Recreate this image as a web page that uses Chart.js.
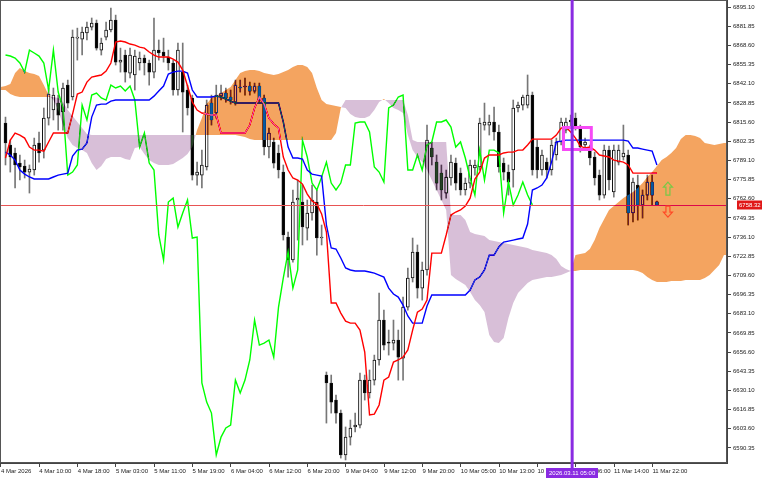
<!DOCTYPE html>
<html><head><meta charset="utf-8">
<script src="https://cdn.jsdelivr.net/npm/chart.js@4.4.1/dist/chart.umd.min.js"></script>
<style>html,body{margin:0;padding:0;background:#fff;}canvas{display:block;}</style>
</head><body>
<canvas id="c" width="768" height="480"></canvas>
<script>
// ---------- DATA ----------
const xTickLabels = ['4 Mar 2026','4 Mar 10:00','4 Mar 18:00','5 Mar 03:00','5 Mar 11:00','5 Mar 19:00','6 Mar 04:00','6 Mar 12:00','6 Mar 20:00','9 Mar 04:00','9 Mar 12:00','9 Mar 20:00','10 Mar 05:00','10 Mar 13:00','10 Mar 21:00','11 Mar 06:00','11 Mar 14:00','11 Mar 22:00'];
const yTicks = [6590.35,6603.60,6616.85,6630.10,6643.35,6656.60,6669.85,6683.10,6696.35,6709.60,6722.85,6736.10,6749.35,6762.60,6775.85,6789.10,6802.35,6815.60,6828.85,6842.10,6855.35,6868.60,6881.85,6895.10];

const open = [6814.9,6799.7,6794.2,6787.2,6785.2,6781.0,6782.4,6801.1,6796.2,6818.3,
6823.9,6828.7,6822.5,6841.1,6832.9,6873.6,6872.9,6877.1,6881.2,6884.0,
6865.3,6874.3,6879.2,6886.1,6857.0,6861.9,6849.4,6848.1,6856.4,6859.8,
6856.4,6850.1,6865.3,6864.0,6860.5,6856.4,6837.7,6850.1,6837.7,6832.2,
6778.9,6778.9,6784.5,6828.7,6821.8,6833.5,6835.6,6832.9,6829.4,6839.8,
6839.8,6840.5,6837.0,6840.5,6832.2,6798.3,6801.8,6794.2,6781.0,6736.1,
6720.2,6761.7,6760.3,6742.3,6752.7,6760.3,6735.4,6640.7,6635.2,6623.4,
6614.4,6585.4,6597.8,6604.8,6606.1,6637.2,6628.3,6637.2,6651.1,6678.7,
6663.5,6662.8,6664.9,6652.4,6687.7,6707.8,6725.7,6700.8,6713.3,6797.6,
6787.9,6780.3,6766.5,6776.9,6787.2,6780.3,6768.6,6773.4,6783.8,6784.5,
6813.5,6813.5,6815.6,6808.7,6787.2,6781.0,6782.4,6825.3,6827.3,6827.3,
6834.2,6798.3,6782.4,6787.9,6782.4,6792.8,6801.8,6810.0,6815.6,6818.3,
6812.1,6799.7,6796.2,6791.4,6778.9,6765.1,6796.2,6767.2,6787.9,6791.4,
6792.8,6752.7,6772.0,6758.2,6765.1,6774.1,6760.5];
const high = [6819.0,6803.1,6797.6,6792.8,6789.3,6785.9,6804.5,6808.7,6825.3,6839.1,
6839.1,6834.2,6842.5,6844.6,6879.2,6880.5,6881.2,6884.7,6887.5,6886.1,
6873.6,6884.7,6894.4,6889.5,6866.7,6865.3,6866.7,6865.3,6864.0,6861.9,
6858.4,6887.5,6872.3,6873.6,6865.3,6858.4,6870.2,6870.2,6841.1,6834.2,
6787.9,6796.2,6830.8,6834.2,6841.1,6841.1,6839.1,6837.7,6844.6,6844.6,
6846.0,6843.2,6842.5,6842.5,6834.2,6811.4,6804.5,6799.7,6785.9,6739.5,
6768.6,6775.5,6772.0,6761.7,6772.0,6768.6,6744.4,6642.8,6640.7,6626.9,
6616.5,6604.8,6609.6,6614.4,6642.1,6640.7,6644.2,6654.5,6697.4,6685.6,
6671.8,6678.7,6671.8,6694.6,6714.7,6735.4,6730.6,6718.8,6813.5,6801.8,
6792.8,6785.9,6782.4,6792.8,6790.7,6783.8,6776.9,6789.3,6789.3,6818.3,
6828.7,6820.4,6825.9,6813.5,6790.7,6785.9,6830.8,6829.4,6834.2,6848.1,
6836.3,6803.1,6796.2,6790.7,6803.1,6804.5,6818.3,6818.3,6820.4,6821.8,
6813.5,6804.5,6799.7,6794.8,6782.4,6799.7,6799.0,6799.7,6799.7,6813.5,
6796.2,6776.9,6778.9,6768.6,6778.9,6778.9,6761.0];
const low = [6785.9,6781.0,6770.0,6775.5,6776.9,6766.5,6778.9,6787.9,6790.7,6813.5,
6817.0,6810.0,6810.0,6825.3,6830.8,6858.4,6861.9,6872.3,6879.2,6865.3,
6861.9,6872.3,6877.8,6855.0,6850.1,6843.2,6846.0,6837.7,6851.5,6848.1,
6841.1,6846.0,6858.4,6857.0,6851.5,6834.2,6834.2,6808.7,6820.4,6775.5,
6772.0,6770.0,6782.4,6813.5,6818.3,6830.8,6829.4,6828.0,6827.3,6836.3,
6834.2,6834.2,6835.6,6829.4,6792.8,6790.7,6783.8,6776.9,6734.0,6708.4,
6718.8,6734.0,6730.6,6734.0,6747.8,6723.6,6730.6,6607.5,6614.4,6607.5,
6583.3,6582.0,6592.3,6601.3,6604.1,6623.4,6624.8,6633.8,6647.6,6658.0,
6654.5,6658.0,6637.2,6637.2,6685.6,6705.0,6693.9,6692.5,6709.8,6785.9,
6768.6,6761.7,6763.0,6772.0,6768.6,6765.1,6765.1,6770.0,6778.9,6782.4,
6810.0,6806.6,6803.1,6781.0,6775.5,6765.1,6770.6,6822.5,6823.9,6825.3,
6778.9,6776.9,6778.9,6776.9,6778.9,6789.3,6799.7,6808.0,6811.4,6810.0,
6794.8,6796.2,6785.9,6772.0,6761.7,6763.0,6768.6,6763.7,6785.9,6789.3,
6744.4,6746.5,6747.8,6749.2,6761.7,6758.2,6757.9];
const close = [6801.1,6791.4,6785.9,6784.5,6781.0,6783.1,6799.7,6794.2,6818.3,6834.9,
6834.2,6820.4,6839.1,6828.7,6874.3,6874.3,6877.8,6881.2,6884.0,6866.7,
6870.2,6879.2,6886.1,6857.0,6858.4,6850.1,6861.9,6861.2,6859.8,6856.4,
6850.1,6865.3,6863.3,6861.2,6856.4,6837.7,6865.3,6836.3,6825.3,6778.9,
6781.0,6785.9,6827.3,6817.0,6834.2,6835.6,6832.2,6830.8,6841.1,6839.1,
6840.5,6837.0,6840.5,6830.8,6798.3,6808.0,6787.2,6782.4,6737.5,6720.2,
6760.3,6763.0,6743.0,6752.7,6761.7,6735.4,6736.1,6635.2,6622.0,6614.4,
6585.4,6597.8,6604.1,6606.1,6637.2,6628.3,6637.2,6651.1,6678.7,6661.4,
6662.8,6664.9,6653.1,6687.7,6707.8,6725.7,6700.8,6713.3,6803.1,6791.4,
6773.4,6768.6,6777.6,6787.9,6773.4,6768.6,6773.4,6785.9,6785.9,6814.9,
6815.6,6815.6,6808.7,6784.5,6781.0,6774.1,6825.3,6827.3,6832.9,6834.2,
6782.4,6782.4,6792.8,6782.4,6799.7,6801.8,6815.6,6815.6,6817.0,6812.1,
6798.3,6801.8,6790.7,6776.9,6765.1,6796.2,6775.5,6796.2,6796.2,6794.2,
6752.7,6774.1,6758.2,6765.1,6774.1,6765.1,6758.3];

// Tenkan-sen (red) and Kijun-sen (blue), one value per bar
const tenkan = [6790.7,6803.1,6808.0,6806.6,6804.5,6798.3,6796.2,6796.2,6795.5,6801.8,
6808.0,6808.0,6808.0,6808.0,6821.1,6834.9,6836.3,6843.2,6846.7,6847.4,
6848.1,6850.8,6856.4,6870.9,6871.6,6870.9,6869.5,6868.8,6867.4,6866.7,
6864.0,6861.9,6860.5,6860.5,6860.5,6859.1,6857.0,6851.5,6840.5,6829.4,
6823.9,6821.8,6821.1,6820.4,6820.4,6808.0,6808.0,6808.0,6808.0,6808.0,
6808.0,6813.5,6825.3,6832.9,6828.0,6818.3,6814.2,6811.4,6791.4,6782.4,
6776.9,6775.5,6772.7,6765.8,6761.0,6758.9,6752.0,6739.5,6690.5,6690.5,
6683.5,6678.0,6676.6,6676.6,6671.8,6656.6,6613.1,6613.7,6620.0,6637.2,
6639.3,6649.7,6651.1,6653.1,6658.0,6671.8,6684.2,6686.3,6692.5,6725.0,
6725.0,6725.0,6737.5,6751.3,6753.4,6754.8,6757.5,6763.0,6776.2,6781.0,
6790.7,6792.8,6792.8,6792.8,6794.2,6794.8,6794.8,6796.2,6796.2,6799.7,
6803.8,6803.8,6803.8,6803.8,6803.8,6806.6,6811.4,6812.1,6808.7,6804.5,
6799.0,6797.6,6798.3,6796.2,6792.8,6792.1,6791.4,6789.3,6788.6,6787.9,
6785.9,6780.3,6780.3,6780.3,6780.3,6780.3,6780.3];
const kijun = [6794.8,6792.8,6789.3,6782.4,6779.6,6777.6,6776.2,6776.2,6776.2,6776.2,
6777.6,6778.9,6779.6,6780.3,6792.1,6796.2,6796.9,6801.1,6819.0,6827.3,
6828.0,6828.0,6830.1,6830.8,6830.8,6830.8,6830.8,6830.8,6830.8,6830.8,
6830.8,6833.5,6837.0,6840.5,6848.8,6850.1,6850.8,6850.8,6849.4,6837.7,
6832.9,6832.9,6832.9,6832.9,6833.5,6832.9,6831.5,6830.1,6828.7,6828.7,
6828.7,6828.7,6828.7,6828.7,6828.7,6828.7,6828.7,6828.7,6815.6,6798.3,
6790.7,6790.7,6790.0,6782.4,6779.6,6778.9,6778.2,6744.4,6728.5,6727.8,
6721.6,6714.7,6713.3,6712.6,6712.6,6712.6,6711.9,6711.2,6709.8,6708.4,
6700.8,6696.7,6694.6,6689.1,6681.5,6676.6,6676.6,6676.6,6688.4,6696.0,
6696.0,6696.0,6696.0,6696.0,6696.0,6696.0,6696.0,6699.5,6706.4,6708.4,
6713.3,6723.6,6723.6,6729.2,6732.6,6733.3,6734.0,6734.7,6735.4,6745.1,
6768.6,6770.0,6772.0,6776.9,6787.9,6801.8,6802.4,6803.1,6803.1,6803.1,
6803.1,6803.1,6803.1,6803.1,6803.1,6803.1,6803.1,6803.1,6803.1,6803.1,
6802.4,6797.6,6797.6,6796.9,6796.2,6795.5,6785.9];
// Chikou span (green), plotted 26 bars back: starts at bar 0
const chikou = [6861.9,6861.2,6859.8,6856.4,6850.1,6865.3,6863.3,6861.2,6856.4,6837.7,
6865.3,6836.3,6825.3,6778.9,6781.0,6785.9,6827.3,6817.0,6834.2,6835.6,
6832.2,6830.8,6841.1,6839.1,6840.5,6837.0,6840.5,6830.8,6798.3,6808.0,
6787.2,6782.4,6737.5,6720.2,6760.3,6763.0,6743.0,6752.7,6761.7,6735.4,
6736.1,6635.2,6622.0,6614.4,6585.4,6597.8,6604.1,6606.1,6637.2,6628.3,
6637.2,6651.1,6678.7,6661.4,6662.8,6664.9,6653.1,6687.7,6707.8,6725.7,
6700.8,6713.3,6803.1,6791.4,6773.4,6768.6,6777.6,6787.9,6773.4,6768.6,
6773.4,6785.9,6785.9,6814.9,6815.6,6815.6,6808.7,6784.5,6781.0,6774.1,
6825.3,6827.3,6832.9,6834.2,6782.4,6782.4,6792.8,6782.4,6799.7,6801.8,
6815.6,6815.6,6817.0,6812.1,6798.3,6801.8,6790.7,6776.9,6765.1,6796.2,
6775.5,6796.2,6796.2,6794.2,6752.7,6774.1,6758.2,6765.1,6774.1,6765.1,
6758.3];
// Senkou spans (cloud), already shifted forward; first value sits at bar -2
const cloudFirstBar = -2;
const spanA = [6839.8,6839.8,6840.5,6841.8,6849.4,6852.9,6850.8,6849.4,6848.8,6847.4,
6841.1,6834.2,6830.8,6823.9,6813.5,6804.5,6799.7,6797.6,6796.2,6794.2,
6787.2,6782.4,6785.2,6790.0,6791.4,6791.4,6791.4,6790.0,6789.3,6797.6,
6798.3,6793.5,6789.3,6787.2,6785.9,6785.9,6785.9,6786.5,6788.6,6790.7,
6793.5,6798.3,6810.0,6818.3,6828.0,6832.2,6833.5,6835.6,6837.7,6839.8,
6844.6,6849.4,6850.8,6851.5,6851.5,6850.8,6849.4,6848.8,6848.1,6848.8,
6850.1,6851.5,6853.6,6855.0,6855.0,6853.6,6849.4,6839.1,6830.8,6828.0,
6827.3,6826.6,6825.9,6825.3,6821.1,6819.0,6818.3,6818.3,6819.7,6823.9,
6829.4,6831.5,6828.7,6825.3,6823.9,6821.8,6806.6,6796.2,6791.4,6787.9,
6782.4,6775.5,6768.6,6761.7,6754.8,6709.8,6707.1,6705.0,6702.9,6698.1,
6692.5,6689.1,6684.2,6668.3,6663.5,6662.8,6666.3,6680.1,6690.5,6697.4,
6700.8,6704.3,6706.4,6707.1,6707.8,6708.4,6708.4,6709.1,6709.8,6711.2,
6712.6,6723.6,6724.3,6725.0,6727.8,6734.0,6742.3,6748.5,6754.8,6757.5,
6760.3,6763.0,6765.1,6767.2,6770.0,6773.4,6777.6,6781.0,6785.2,6789.3,
6791.4,6794.2,6797.6,6803.8,6806.6,6806.6,6805.9,6804.5,6801.1,6800.4,
6799.7,6800.4,6801.1,6801.1];
const spanB = [6837.7,6837.7,6837.7,6834.9,6833.5,6832.9,6832.9,6832.9,6832.9,6832.9,
6832.9,6832.9,6832.9,6832.2,6829.4,6823.9,6819.7,6815.6,6811.4,6807.3,
6806.6,6806.6,6806.6,6806.6,6806.6,6806.6,6806.6,6806.6,6806.6,6806.6,
6806.6,6806.6,6806.6,6806.6,6806.6,6806.6,6806.6,6806.6,6806.6,6806.6,
6806.6,6806.6,6806.6,6806.6,6806.6,6806.6,6806.6,6806.6,6806.6,6806.6,
6806.6,6805.9,6805.2,6803.8,6803.1,6803.1,6803.1,6803.1,6803.1,6803.1,
6803.1,6803.1,6803.1,6803.1,6803.1,6803.1,6803.1,6803.1,6803.1,6803.1,
6803.1,6808.0,6825.3,6830.8,6830.8,6830.8,6830.8,6830.8,6830.8,6830.8,
6830.8,6830.8,6830.8,6830.8,6830.8,6830.8,6820.4,6803.1,6801.8,6801.8,
6801.8,6801.8,6801.8,6801.8,6801.8,6751.3,6751.3,6751.3,6747.8,6739.5,
6738.2,6737.5,6736.8,6734.0,6733.3,6732.6,6731.9,6731.3,6730.6,6729.9,
6729.2,6728.5,6727.1,6726.4,6725.7,6725.0,6723.6,6720.9,6716.0,6714.0,
6712.6,6712.6,6713.3,6713.3,6713.3,6713.3,6713.3,6713.3,6713.3,6713.3,
6713.3,6713.3,6713.3,6713.3,6712.6,6711.2,6708.4,6706.4,6705.0,6705.0,
6705.0,6705.7,6705.7,6705.7,6706.4,6706.4,6706.4,6706.4,6707.8,6709.8,
6713.3,6716.7,6723.6,6723.6];

const lastPrice = 6758.32;
const markerBar = 118.3;
const markerLabel = '2026.03.11 05:00';
const boxBars = [116.5, 122.3];
const boxPrices = [6811.8, 6796.6];
const arrowBar = 138.3;
const arrowUp = [6774.1, 6765.1];    // tip, tail
const arrowDown = [6749.9, 6757.5];  // tip, tail

// ---------- CHART ----------
const FONT = 'Liberation Sans, Arial, sans-serif';
Chart.defaults.font.family = FONT;
const bars = open.map((_, i) => i);
const bull = open.map((o, i) => close[i] >= o);

const overlay = {
  id: 'overlay',
  beforeDraw(chart) {
    const ctx = chart.ctx;
    ctx.save(); ctx.fillStyle = '#ffffff'; ctx.fillRect(0, 0, chart.width, chart.height); ctx.restore();
  },
  afterDatasetsDraw(chart) {
    const {ctx, chartArea: ca, scales: {x, y}} = chart;
    ctx.save();
    ctx.beginPath(); ctx.rect(ca.left, ca.top, ca.right - ca.left, ca.bottom - ca.top); ctx.clip();
    // last price line
    const py = Math.round(y.getPixelForValue(lastPrice)) + 0.5;
    ctx.strokeStyle = 'rgb(232,84,84)'; ctx.lineWidth = 1;
    ctx.beginPath(); ctx.moveTo(ca.left, py); ctx.lineTo(ca.right, py); ctx.stroke();
    // Ichimoku cloud, xor-like blend
    const up = new Path2D(), dn = new Path2D();
    for (let k = 0; k < spanA.length - 1; k++) {
      const x0 = x.getPixelForValue(cloudFirstBar + k), x1 = x.getPixelForValue(cloudFirstBar + k + 1);
      const a0 = y.getPixelForValue(spanA[k]), a1 = y.getPixelForValue(spanA[k + 1]);
      const b0 = y.getPixelForValue(spanB[k]), b1 = y.getPixelForValue(spanB[k + 1]);
      const d0 = spanA[k] - spanB[k], d1 = spanA[k + 1] - spanB[k + 1];
      if ((d0 >= 0 && d1 >= 0) || (d0 <= 0 && d1 <= 0)) {
        const p = (d0 + d1 >= 0) ? up : dn;
        p.moveTo(x0, a0); p.lineTo(x1, a1); p.lineTo(x1, b1); p.lineTo(x0, b0); p.closePath();
      } else {
        const t = d0 / (d0 - d1), xc = x0 + (x1 - x0) * t, yc = a0 + (a1 - a0) * t;
        const p0 = d0 > 0 ? up : dn, p1 = d1 > 0 ? up : dn;
        p0.moveTo(x0, a0); p0.lineTo(xc, yc); p0.lineTo(x0, b0); p0.closePath();
        p1.moveTo(xc, yc); p1.lineTo(x1, a1); p1.lineTo(x1, b1); p1.closePath();
      }
    }
    ctx.globalCompositeOperation = 'difference';
    ctx.fillStyle = 'rgb(11,91,159)'; ctx.fill(up);
    ctx.fillStyle = 'rgb(39,64,39)'; ctx.fill(dn);
    ctx.globalCompositeOperation = 'source-over';
    // pink rectangle
    const rx0 = x.getPixelForValue(boxBars[0]), rx1 = x.getPixelForValue(boxBars[1]);
    const ry0 = y.getPixelForValue(boxPrices[0]), ry1 = y.getPixelForValue(boxPrices[1]);
    ctx.strokeStyle = '#f64af6'; ctx.lineWidth = 3;
    ctx.strokeRect(rx0, ry0, rx1 - rx0, ry1 - ry0);
    // arrows
    const ax = x.getPixelForValue(arrowBar);
    function arrow(tipP, tailP, color) {
      const yt = y.getPixelForValue(tipP), ye = y.getPixelForValue(tailP);
      const dir = ye > yt ? 1 : -1, hw = 4.5, sw = 2, hh = 5;
      ctx.beginPath();
      ctx.moveTo(ax, yt); ctx.lineTo(ax + hw, yt + dir * hh); ctx.lineTo(ax + sw, yt + dir * hh);
      ctx.lineTo(ax + sw, ye); ctx.lineTo(ax - sw, ye); ctx.lineTo(ax - sw, yt + dir * hh);
      ctx.lineTo(ax - hw, yt + dir * hh); ctx.closePath();
      ctx.strokeStyle = color; ctx.lineWidth = 1.2; ctx.stroke();
    }
    arrow(arrowUp[0], arrowUp[1], '#78c846');
    arrow(arrowDown[0], arrowDown[1], '#ff4a26');
    ctx.restore();
  },
  afterDraw(chart) {
    const {ctx, chartArea: ca, scales: {x, y}} = chart;
    ctx.save();
    // frame
    ctx.strokeStyle = '#555'; ctx.lineWidth = 1;
    ctx.strokeRect(ca.left + 0.5, ca.top + 0.5, ca.right - ca.left - 1, ca.bottom - ca.top - 1);
    // vertical marker line
    const mx = x.getPixelForValue(markerBar);
    ctx.strokeStyle = '#8a2be2'; ctx.lineWidth = 3;
    ctx.beginPath(); ctx.moveTo(mx, ca.top); ctx.lineTo(mx, ca.bottom + 5); ctx.stroke();
    // time label box
    ctx.font = '6px ' + FONT;
    const tw = ctx.measureText(markerLabel).width + 6;
    ctx.fillStyle = '#8a2be2';
    ctx.fillRect(Math.round(mx - tw / 2), ca.bottom + 5, Math.round(tw), 10);
    ctx.fillStyle = '#fff'; ctx.textAlign = 'center'; ctx.textBaseline = 'middle';
    ctx.fillText(markerLabel, mx, ca.bottom + 10.5);
    // price label box
    const py = y.getPixelForValue(lastPrice);
    ctx.fillStyle = '#e01818';
    ctx.fillRect(ca.right + 10, Math.round(py) - 4.5, 25, 9);
    ctx.fillStyle = '#fff'; ctx.textAlign = 'left';
    ctx.fillText(lastPrice.toFixed(2), ca.right + 12, Math.round(py) + 0.5);
    ctx.restore();
  }
};

new Chart(document.getElementById('c'), {
  type: 'bar',
  data: {
    datasets: [
      { type: 'bar', label: 'wick', data: bars.map(i => ({x: i, y: [low[i], high[i]]})),
        backgroundColor: '#777', borderWidth: 0, barThickness: 1, grouped: false, order: 4 },
      { type: 'bar', label: 'body', data: bars.map(i => ({x: i, y: [open[i], close[i]]})),
        backgroundColor: bull.map(b => b ? '#ffffff' : '#000000'), borderColor: '#111', borderWidth: 1,
        borderSkipped: false, barThickness: 3, minBarLength: 1, grouped: false, order: 3 },
      { type: 'line', label: 'chikou', data: chikou.map((v, i) => ({x: i, y: v})),
        borderColor: '#00ff00', borderWidth: 1.4, pointRadius: 0, tension: 0, order: 2 },
      { type: 'line', label: 'kijun', data: kijun.map((v, i) => ({x: i, y: v})),
        borderColor: '#0000ff', borderWidth: 1.4, pointRadius: 0, tension: 0, order: 1 },
      { type: 'line', label: 'tenkan', data: tenkan.map((v, i) => ({x: i, y: v})),
        borderColor: '#ff0000', borderWidth: 1.4, pointRadius: 0, tension: 0, order: 0 }
    ]
  },
  options: {
    responsive: false, animation: false, devicePixelRatio: 1,
    layout: { padding: 0 },
    plugins: { legend: { display: false }, tooltip: { enabled: false } },
    scales: {
      x: {
        type: 'linear', min: -1.148, max: 150.63, offset: false,
        grid: { drawOnChartArea: false, drawTicks: true, tickLength: 4, color: '#444', offset: false },
        border: { display: true, color: '#444', width: 1 },
        ticks: { font: { size: 6 }, color: '#222', align: 'start', maxRotation: 0, minRotation: 0,
          autoSkip: false, padding: 1, callback: (v, i) => xTickLabels[i] },
        afterBuildTicks: s => { s.ticks = xTickLabels.map((_, k) => ({ value: k * 8 - 0.94 })); },
        afterFit: s => { s.height = 17; s.paddingLeft = 0; s.paddingRight = 0; }
      },
      y: {
        type: 'linear', position: 'right', min: 6579.9, max: 6899.94,
        grid: { drawOnChartArea: false, drawTicks: true, tickLength: 4, color: '#444' },
        border: { display: true, color: '#444', width: 1 },
        ticks: { font: { size: 6 }, color: '#222', padding: 2, autoSkip: false,
          callback: v => Number(v).toFixed(2) },
        afterBuildTicks: s => { s.ticks = yTicks.map(v => ({ value: v })); },
        afterFit: s => { s.width = 41; s.paddingTop = 0; s.paddingBottom = 0; }
      }
    }
  },
  plugins: [overlay]
});
</script>
</body></html>
